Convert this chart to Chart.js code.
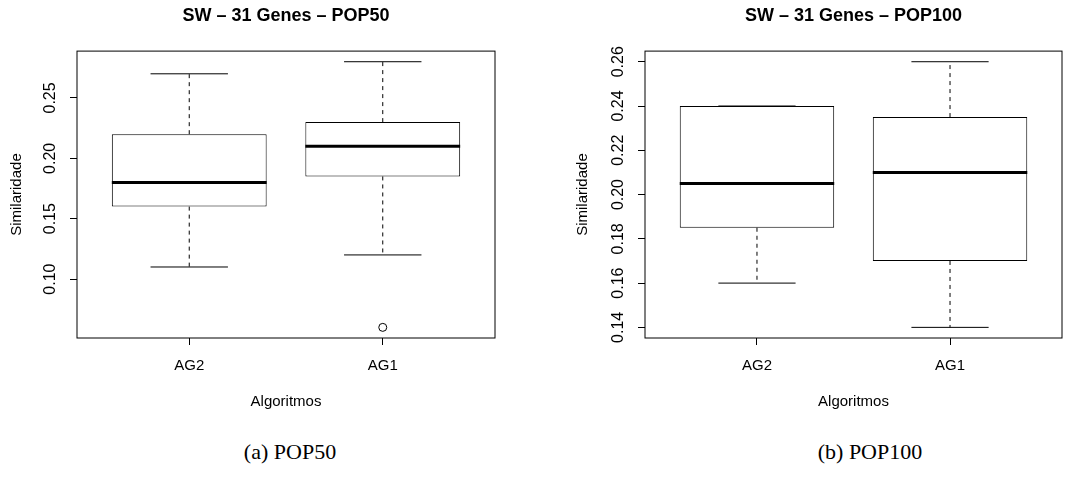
<!DOCTYPE html>
<html>
<head>
<meta charset="utf-8">
<script src="https://cdn.jsdelivr.net/npm/chart.js@4.4.1/dist/chart.umd.min.js"></script>
<style>
  body { margin: 0; background: #fff; }
  #wrap { position: relative; width: 1080px; height: 480px; }
  canvas { position: absolute; top: 0; }
  .caption { position: absolute; top: 439px; width: 200px; text-align: center;
             font-family: 'Liberation Serif', serif; font-size: 22px; color: #000; }
</style>
</head>
<body>
<div id="wrap">
  <canvas id="pop50" width="540" height="420" style="left:0"></canvas>
  <canvas id="pop100" width="540" height="420" style="left:540px"></canvas>
  <div class="caption" style="left:190px">(a) POP50</div>
  <div class="caption" style="left:770px">(b) POP100</div>
</div>
<script>
const categories = ['AG2', 'AG1'];

// POP50
const pop50Min = [0.11, 0.12];
const pop50Q1 = [0.16, 0.185];
const pop50Median = [0.18, 0.21];
const pop50Q3 = [0.22, 0.23];
const pop50Max = [0.27, 0.28];
const pop50Outliers = [[], [0.06]];
const pop50Ticks = [0.10, 0.15, 0.20, 0.25];

// POP100
const pop100Min = [0.16, 0.14];
const pop100Q1 = [0.185, 0.17];
const pop100Median = [0.205, 0.21];
const pop100Q3 = [0.24, 0.235];
const pop100Max = [0.24, 0.26];
const pop100Outliers = [[], []];
const pop100Ticks = [0.14, 0.16, 0.18, 0.20, 0.22, 0.24, 0.26];

const FONT = 'Liberation Sans';

// whiskers, caps, medians and the frame, R style
const rBoxPlugin = {
    id: 'rbox',
    afterDatasetsDraw(chart, args, opts) {
        const ctx = chart.ctx;
        const x = chart.scales.x, y = chart.scales.y;
        const bars = chart.getDatasetMeta(0).data;
        ctx.save();
        ctx.strokeStyle = '#000';
        bars.forEach((bar, i) => {
            const cx = x.getPixelForValue(i + 1);
            const half = bar.width / 2;
            const yMin = y.getPixelForValue(opts.min[i]);
            const yMax = y.getPixelForValue(opts.max[i]);
            const yQ1 = y.getPixelForValue(opts.q1[i]);
            const yQ3 = y.getPixelForValue(opts.q3[i]);
            const yMed = y.getPixelForValue(opts.median[i]);
            ctx.lineWidth = 1;
            ctx.setLineDash([4, 4]);
            ctx.beginPath();
            ctx.moveTo(cx, yQ3); ctx.lineTo(cx, yMax);
            ctx.moveTo(cx, yQ1); ctx.lineTo(cx, yMin);
            ctx.stroke();
            ctx.setLineDash([]);
            ctx.beginPath();
            ctx.moveTo(cx - half / 2, yMax); ctx.lineTo(cx + half / 2, yMax);
            ctx.moveTo(cx - half / 2, yMin); ctx.lineTo(cx + half / 2, yMin);
            ctx.stroke();
            ctx.lineWidth = 3;
            ctx.beginPath();
            ctx.moveTo(cx - half, yMed); ctx.lineTo(cx + half, yMed);
            ctx.stroke();
        });
        const a = chart.chartArea;
        ctx.lineWidth = 1;
        ctx.strokeRect(a.left, a.top, a.right - a.left, a.bottom - a.top);
        ctx.restore();
    }
};

function makeBoxplot(id, title, s, yTicks, lay) {
    const all = [...s.min, ...s.max, ...s.outliers.flat()];
    const lo = Math.min(...all), hi = Math.max(...all);
    const ext = (hi - lo) * 0.04;
    const outlierPts = [];
    s.outliers.forEach((list, i) => list.forEach(v => outlierPts.push({ x: i + 1, y: v })));

    return new Chart(document.getElementById(id), {
        type: 'bar',
        data: {
            datasets: [
                {
                    data: categories.map((c, i) => ({ x: i + 1, y: [s.q1[i], s.q3[i]] })),
                    backgroundColor: '#fff',
                    borderColor: '#000',
                    borderWidth: 1,
                    borderSkipped: false,
                    barPercentage: 0.8,
                    categoryPercentage: 1
                },
                {
                    type: 'line',
                    data: outlierPts,
                    showLine: false,
                    pointRadius: 4,
                    pointBackgroundColor: '#fff',
                    pointBorderColor: '#000',
                    pointBorderWidth: 1
                }
            ]
        },
        options: {
            responsive: false,
            animation: false,
            layout: { padding: { top: 0, right: lay.padRight, bottom: 0, left: 0 } },
            plugins: {
                legend: { display: false },
                tooltip: { enabled: false },
                title: {
                    display: true,
                    text: title,
                    fullSize: false,
                    color: '#000',
                    font: { family: FONT, size: 18, weight: 'bold', lineHeight: 1.2 },
                    padding: { top: 5, bottom: 24.5 }
                },
                rbox: s
            },
            scales: {
                x: {
                    type: 'linear',
                    min: 0.42, max: 2.58,
                    offset: false,
                    afterBuildTicks: sc => { sc.ticks = categories.map((c, i) => ({ value: i + 1 })); },
                    afterFit: sc => { sc.height = 82; },
                    ticks: {
                        callback: (v, i) => categories[i],
                        color: '#000',
                        font: { family: FONT, size: 15 },
                        padding: 12,
                        maxRotation: 0
                    },
                    grid: { offset: false, drawOnChartArea: false, tickLength: 7, color: '#000' },
                    border: { display: false },
                    title: {
                        display: true, text: 'Algoritmos', color: '#000',
                        font: { family: FONT, size: 15, lineHeight: 1.2 },
                        padding: { top: 0, bottom: 9 }
                    }
                },
                y: {
                    min: lo - ext, max: hi + ext,
                    afterBuildTicks: sc => { sc.ticks = yTicks.map(v => ({ value: v })); },
                    afterFit: sc => { sc.width = lay.yWidth; },
                    ticks: {
                        callback: v => v.toFixed(2),
                        color: '#000',
                        font: { family: FONT, size: 16 },
                        minRotation: 90, maxRotation: 90,
                        crossAlign: 'center',
                        padding: 4
                    },
                    grid: { drawOnChartArea: false, tickLength: 7, color: '#000' },
                    border: { display: false },
                    title: {
                        display: true, text: 'Similaridade', color: '#000',
                        font: { family: FONT, size: 15, lineHeight: 1.2 },
                        padding: { top: lay.yTitlePad, bottom: 0 }
                    }
                }
            }
        },
        plugins: [rBoxPlugin]
    });
}

makeBoxplot('pop50', 'SW \u2013 31 Genes \u2013 POP50', {
    min: pop50Min, q1: pop50Q1, median: pop50Median, q3: pop50Q3, max: pop50Max, outliers: pop50Outliers
}, pop50Ticks, { yWidth: 77, padRight: 45, yTitlePad: 7.7 });

makeBoxplot('pop100', 'SW \u2013 31 Genes \u2013 POP100', {
    min: pop100Min, q1: pop100Q1, median: pop100Median, q3: pop100Q3, max: pop100Max, outliers: pop100Outliers
}, pop100Ticks, { yWidth: 105, padRight: 18, yTitlePad: 34 });
</script>
</body>
</html>
